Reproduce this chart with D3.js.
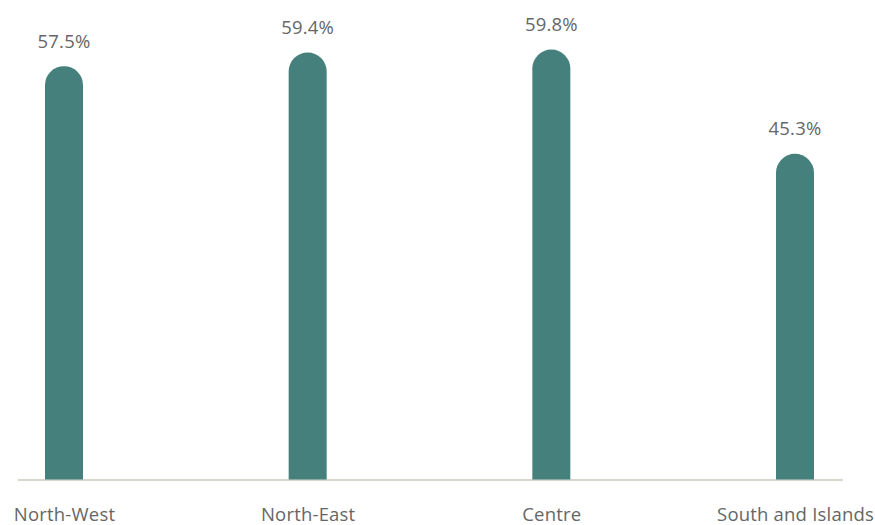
<!DOCTYPE html>
<html>
<head>
<meta charset="utf-8">
<script src="https://cdn.jsdelivr.net/npm/d3@7"></script>
<style>
  html, body { margin: 0; padding: 0; background: #ffffff; }
  svg { display: block; }
</style>
</head>
<body>
<svg id="chart" width="875" height="525"></svg>
<script>
const categories = ["North-West", "North-East", "Centre", "South and Islands"];
const values = [57.5, 59.4, 59.8, 45.3];
const valueLabels = ["57.5%", "59.4%", "59.8%", "45.3%"];

const svg = d3.select("#chart");
const font = "'Open Sans', 'Noto Sans', sans-serif";
const barColor = "#45807c";
const textColor = "#666666";

const x = d3.scalePoint().domain(categories).range([64, 795]);
const y = d3.scaleLinear().domain([0, 66.7]).range([479.5, 0]);
const barW = 38;
const r = barW / 2;

// baseline
svg.append("line")
  .attr("x1", 18).attr("x2", 843)
  .attr("y1", y(0) + 0.5).attr("y2", y(0) + 0.5)
  .attr("stroke", "#d9d6cc").attr("stroke-width", 2);

// bars with rounded top
svg.append("g").selectAll("path")
  .data(values)
  .join("path")
  .attr("fill", barColor)
  .attr("d", (d, i) => {
    const cx = x(categories[i]);
    const x0 = cx - r, x1 = cx + r;
    const top = y(d), bottom = y(0);
    return `M${x0},${bottom} L${x0},${top + r} A${r},${r} 0 0 1 ${x1},${top + r} L${x1},${bottom} Z`;
  });

// value labels
svg.append("g").selectAll("text")
  .data(values)
  .join("text")
  .attr("x", (d, i) => x(categories[i]))
  .attr("y", d => y(d) - 18.5)
  .attr("text-anchor", "middle")
  .attr("font-family", font)
  .attr("font-size", 18.5)
  .attr("letter-spacing", "0.2px")
  .attr("fill", textColor)
  .text((d, i) => valueLabels[i]);

// category axis
const axis = d3.axisBottom(x).tickSize(0).tickPadding(0);
const gAxis = svg.append("g").attr("transform", `translate(0, 508)`).call(axis);
gAxis.select(".domain").remove();
gAxis.selectAll("text")
  .attr("font-family", font)
  .attr("font-size", 18.5)
  .attr("letter-spacing", "0.2px")
  .attr("fill", textColor)
  .attr("dy", "0.7em");
</script>
</body>
</html>
